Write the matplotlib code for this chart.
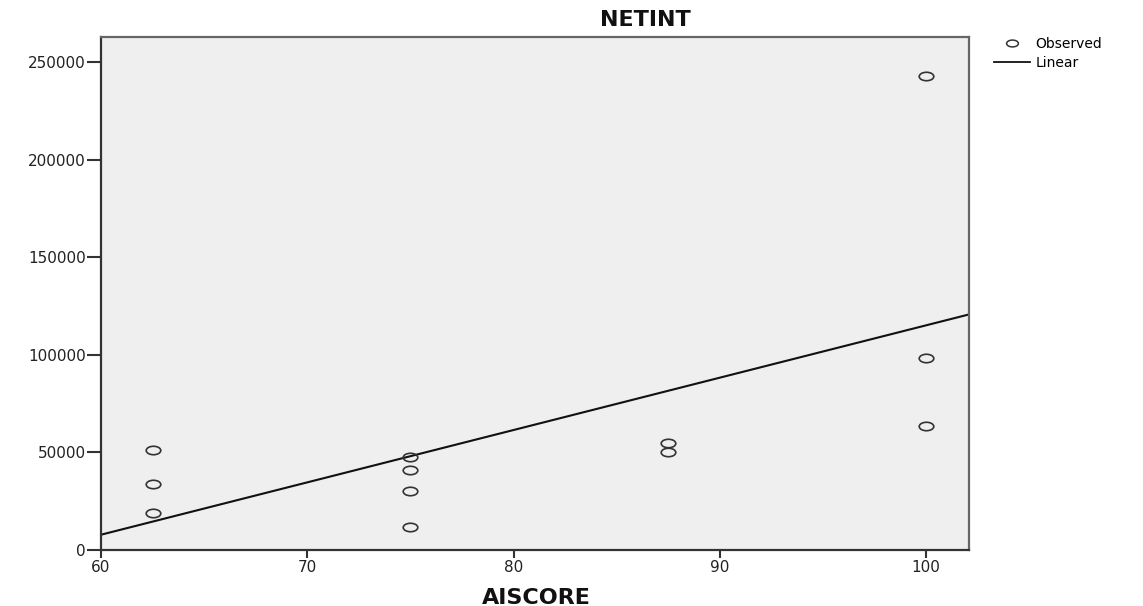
import numpy as np
import matplotlib
matplotlib.use("Agg")
import matplotlib.pyplot as plt
from matplotlib.path import Path
from matplotlib.lines import Line2D

# observed NETINT values grouped by AISCORE
aiscore = [62.5, 62.5, 62.5,
           75, 75, 75, 75,
           87.5, 87.5,
           100, 100, 100]
netint = [51300, 33900, 19000,
          47500, 41000, 30200, 11800,
          55000, 50000,
          63300, 98600, 242800]

x_ticks = [60, 70, 80, 90, 100]
y_ticks = [0, 50000, 100000, 150000, 200000, 250000]

plt.rcParams["font.family"] = ["DejaVu Sans"]

# flattened open circle used for the observed points
circ = Path.unit_circle()
ellipse = Path(circ.vertices * np.array([1.0, 0.58]), circ.codes)

fig = plt.figure(figsize=(11.43, 6.06), dpi=100)
ax = fig.add_axes([0.0884, 0.0924, 0.7594, 0.8465])
ax.set_facecolor("#efefef")

x = np.array(aiscore, dtype=float)
y = np.array(netint, dtype=float)
slope, intercept = np.polyfit(x, y, 1)

xmin, xmax = 60, 102.08
ymin, ymax = 0, 262800
xl = np.array([xmin, xmax])
ax.plot(xl, intercept + slope * xl, color="#111111", lw=1.5, zorder=2)
ax.plot(x, y, ls="none", marker=ellipse, ms=10.5, mfc="none",
        mec="#333333", mew=1.2, zorder=3)

ax.set_xlim(xmin, xmax)
ax.set_ylim(ymin, ymax)
ax.set_xticks(x_ticks)
ax.set_yticks(y_ticks)
ax.set_xticklabels([str(v) for v in x_ticks])
ax.set_yticklabels([str(v) for v in y_ticks])

for side in ["left", "bottom", "top", "right"]:
    ax.spines[side].set_linewidth(1.6)
    ax.spines[side].set_color("#333333")
ax.spines["right"].set_color("#666666")
ax.spines["top"].set_color("#666666")

ax.tick_params(axis="y", length=10, width=1.5, color="#333333",
               labelsize=11, labelcolor="#222222", pad=1)
ax.tick_params(axis="x", length=6, width=1.5, color="#333333",
               labelsize=11, labelcolor="#222222", pad=1)

fig.text(645 / 1143, 1 - 20 / 606, "NETINT", ha="center", va="center",
         fontsize=16, fontweight="bold", color="#111111")
fig.text(536 / 1143, 1 - 598 / 606, "AISCORE", ha="center", va="center",
         fontsize=16, fontweight="bold", color="#111111")

handles = [
    Line2D([], [], ls="none", marker=ellipse, ms=8.5, mfc="none",
           mec="#333333", mew=1.1),
    Line2D([], [], color="#111111", lw=1.3),
]
fig.legend(handles, ["Observed", "Linear"], loc="upper left",
           bbox_to_anchor=(994 / 1143, 1 - 37 / 606), frameon=False,
           fontsize=10, handlelength=2.6, handletextpad=0.4,
           labelspacing=0.35, borderaxespad=0, borderpad=0)

fig.savefig("out.png", dpi=100, facecolor="white")
